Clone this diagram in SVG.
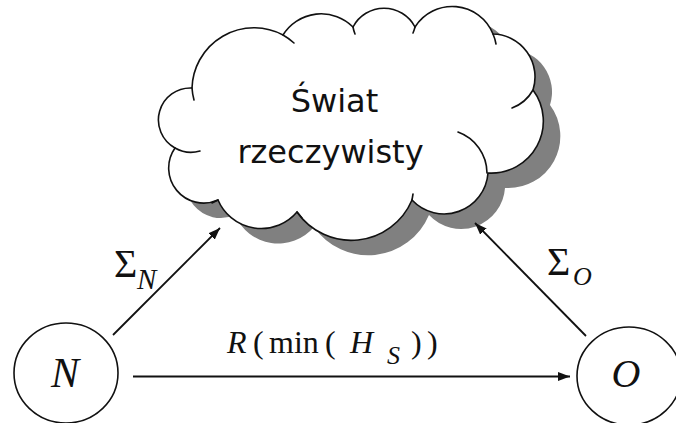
<svg xmlns="http://www.w3.org/2000/svg" width="676" height="423" viewBox="0 0 676 423">
<style>
.ol{fill:none;stroke:#111;stroke-width:1.6;stroke-linecap:round}
.node{fill:#fff;stroke:#111;stroke-width:1.6}
.conn{fill:none;stroke:#111;stroke-width:1.8}
.math{font-family:"Liberation Serif","Times New Roman",serif;fill:#111}
.it{font-style:italic}
.cloudtxt{font-family:"DejaVu Sans",Verdana,sans-serif;font-size:32px;fill:#111;text-anchor:middle}
</style>
<defs>
<path id="cloudShape" d="M175,148 A32,32 0 0 1 192,88 A62,62 0 0 1 283,35 A45,45 0 0 1 353,27 A35,35 0 0 1 415,27 A44,44 0 0 1 493,34 A43,43 0 0 1 533,90 A52,52 0 0 1 488,173 A44,44 0 0 1 412,200 A66,66 0 0 1 297,212 A47,47 0 0 1 218,200 A35,35 0 0 1 175,148 Z"/>
<marker id="ah" markerUnits="userSpaceOnUse" markerWidth="13" markerHeight="10" refX="12" refY="4.5" orient="auto">
<path d="M0,0 L12,4.5 L0,9 Z" fill="#111"/>
</marker>
</defs>
<rect width="676" height="423" fill="#fff"/>
<g id="cloud">
<use href="#cloudShape" transform="translate(17,15)" fill="#808080"/>
<use href="#cloudShape" fill="#fff" stroke="#111" stroke-width="1.6"/>
<path class="ol" d="M175,148 A32,32 0 0 0 200,151"/>
<path class="ol" d="M192,88 A62,62 0 0 0 194,100"/>
<path class="ol" d="M283,35 A62,62 0 0 1 294,43"/>
<path class="ol" d="M353,27 A35,35 0 0 0 355,34"/>
<path class="ol" d="M415,27 A35,35 0 0 1 413,33"/>
<path class="ol" d="M493,34 A44,44 0 0 1 496,44"/>
<path class="ol" d="M533,90 A40,40 0 0 1 512,108"/>
<path class="ol" d="M487,173 A44,44 0 0 0 458,132"/>
<path class="ol" d="M412,200 L413,194"/>
<path class="ol" d="M297,212 L302,218"/>
<path class="ol" d="M218,200 L212,203"/>
<text class="cloudtxt" x="334.5" y="112">Świat</text>
<text class="cloudtxt" x="330.5" y="163">rzeczywisty</text>
</g>
<g id="connectors">
<path class="conn" d="M113,335 L220,228" marker-end="url(#ah)"/>
<path class="conn" d="M586,336 L475,223" marker-end="url(#ah)"/>
<path class="conn" d="M133,376.5 L570,376.5" marker-end="url(#ah)"/>
</g>
<g id="node-N">
<ellipse class="node" cx="66" cy="373" rx="52" ry="50"/>
<text class="math it" x="65" y="387" font-size="42" text-anchor="middle">N</text>
</g>
<g id="node-O">
<ellipse class="node" cx="629" cy="376" rx="52" ry="49"/>
<text class="math it" x="626" y="387" font-size="40" text-anchor="middle">O</text>
</g>
<g id="label-sigmaN">
<text class="math" x="114" y="277" font-size="40">Σ</text>
<text class="math it" x="137" y="289" font-size="29">N</text>
</g>
<g id="label-sigmaO">
<text class="math" x="547" y="275" font-size="40">Σ</text>
<text class="math it" x="573" y="285" font-size="26">O</text>
</g>
<g id="label-R">
<text class="math it" x="227" y="353" font-size="32">R</text>
<text class="math" x="253" y="353" font-size="32">(</text>
<text class="math" x="269" y="353" font-size="32">min</text>
<text class="math" x="325" y="353" font-size="32">(</text>
<text class="math it" x="350" y="353" font-size="32">H</text>
<text class="math it" x="387" y="364" font-size="26">S</text>
<text class="math" x="411" y="353" font-size="32">)</text>
<text class="math" x="427" y="353" font-size="32">)</text>
</g>
</svg>
